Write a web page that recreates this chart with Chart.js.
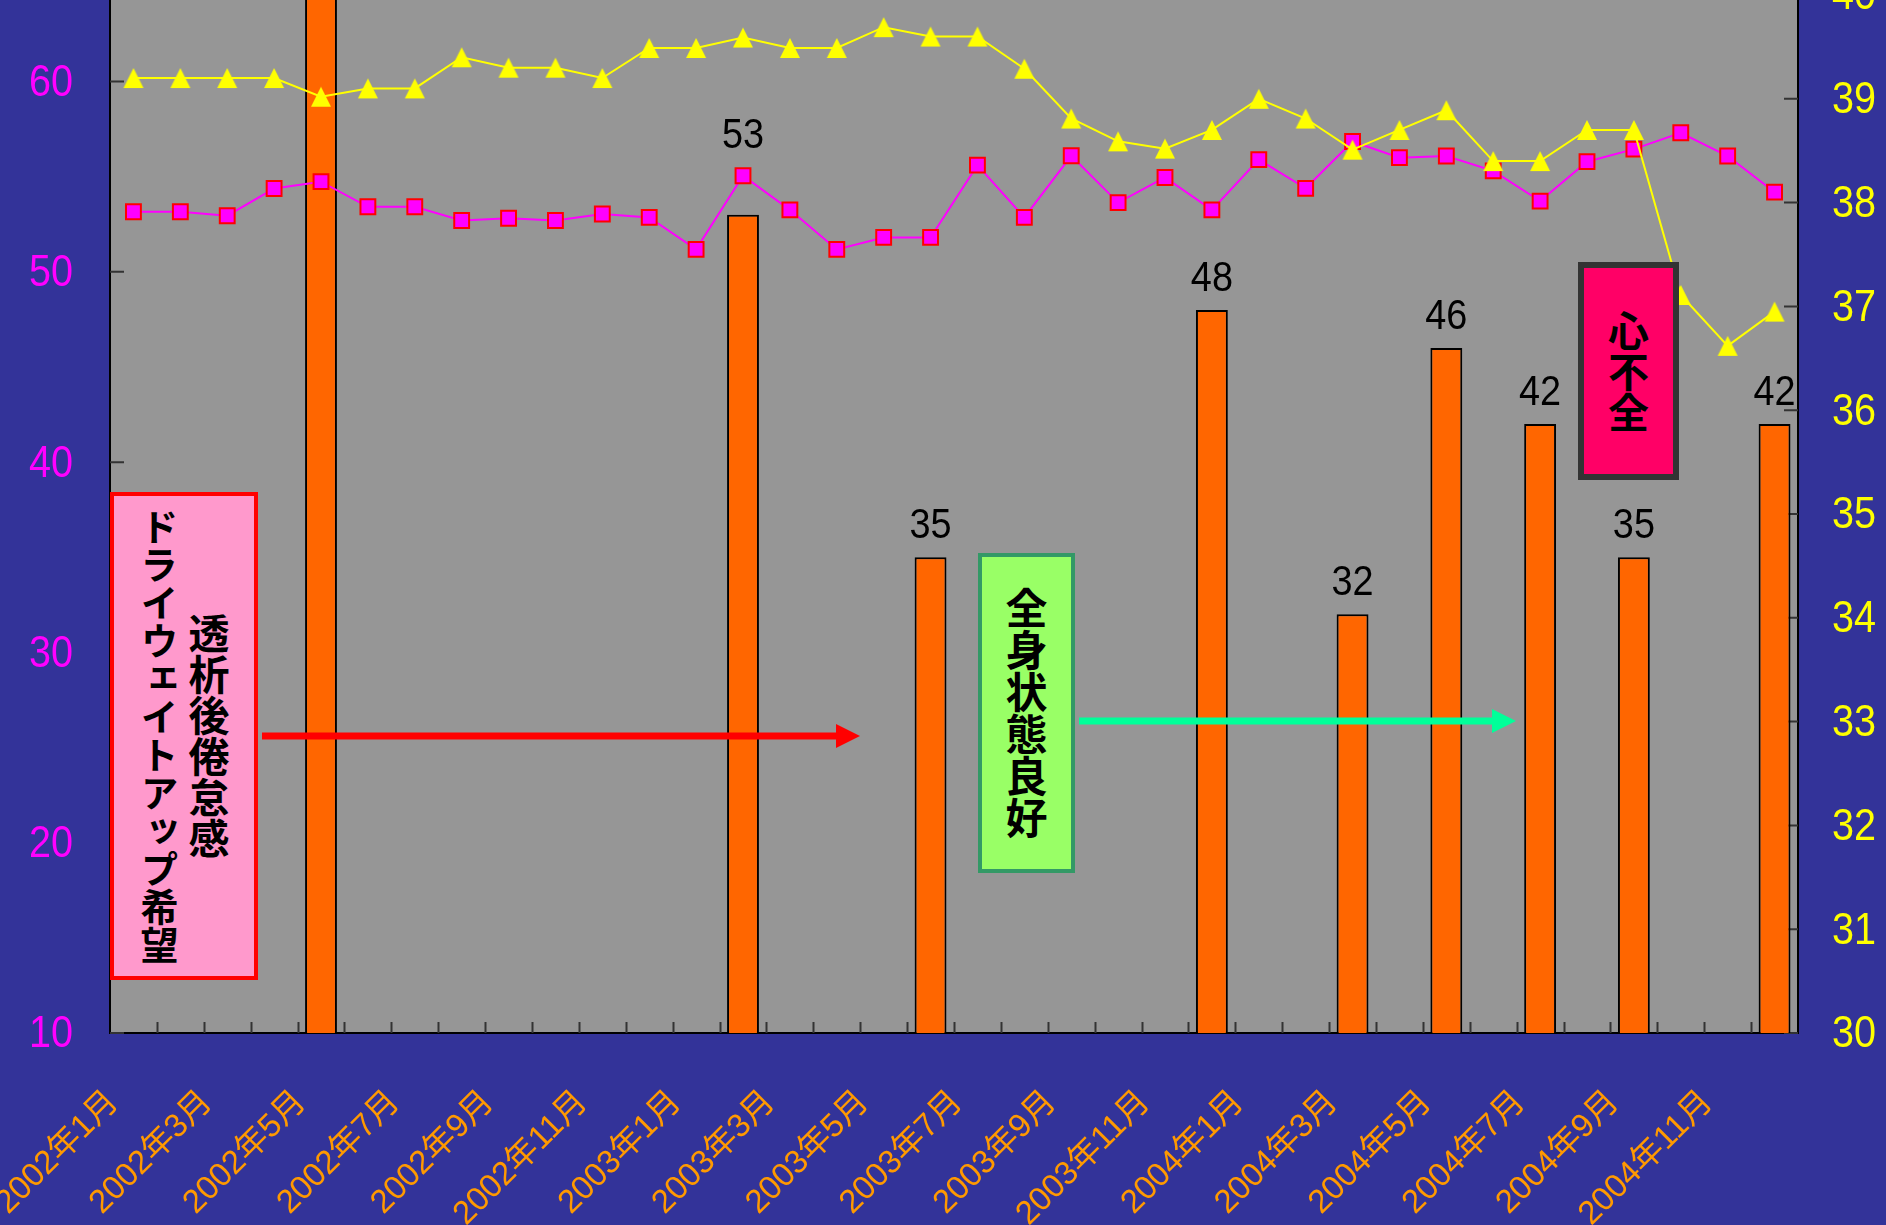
<!DOCTYPE html>
<html lang="ja">
<head>
<meta charset="utf-8">
<title>透析経過</title>
<script src="https://cdn.jsdelivr.net/npm/chart.js@4.4.1/dist/chart.umd.min.js"></script>
<style>
  html, body { margin: 0; padding: 0; background: #333399; overflow: hidden; }
  body { width: 1886px; height: 1225px; position: relative; }
  #wrap { position: absolute; left: 0; top: -5px; width: 1886px; height: 1230px; }
  .note {
    position: absolute; box-sizing: border-box;
    display: flex; align-items: center; justify-content: center;
    font-family: 'Noto Sans CJK JP', sans-serif; font-weight: bold; color: #000;
  }
  .note div { writing-mode: vertical-rl; text-align: center; }
  #arrows { position: absolute; left: 0; top: 0; }
</style>
</head>
<body>
<div id="wrap"><canvas id="myChart" width="1886" height="1230"></canvas></div>

<svg id="arrows" width="1886" height="1225">
  <line x1="262" y1="736" x2="838" y2="736" stroke="#FF0000" stroke-width="7"/>
  <polygon points="836,724 860,736 836,748" fill="#FF0000"/>
  <line x1="1079" y1="721" x2="1494" y2="721" stroke="#00FF99" stroke-width="7"/>
  <polygon points="1492,709 1516,721 1492,733" fill="#00FF99"/>
</svg>

<div class="note" style="left:110px; top:492px; width:148px; height:488px; background:#FF99CC; border:4px solid #FF0000;">
  <div style="line-height:50px;"><span style="font-size:41px;">透析後倦怠感</span><br><span style="font-size:38px;">ドライウェイトアップ希望</span></div>
</div>
<div class="note" style="left:978px; top:553px; width:97px; height:320px; background:#99FF66; border:4px solid #339966;">
  <div style="font-size:42px;">全身状態良好</div>
</div>
<div class="note" style="left:1578px; top:262px; width:101px; height:218px; background:#FF0066; border:6px solid #333333;">
  <div style="font-size:41px;">心不全</div>
</div>

<script>
// months on the category axis
const months = [
  '2002年1月', '2002年2月', '2002年3月', '2002年4月', '2002年5月', '2002年6月',
  '2002年7月', '2002年8月', '2002年9月', '2002年10月', '2002年11月', '2002年12月',
  '2003年1月', '2003年2月', '2003年3月', '2003年4月', '2003年5月', '2003年6月',
  '2003年7月', '2003年8月', '2003年9月', '2003年10月', '2003年11月', '2003年12月',
  '2004年1月', '2004年2月', '2004年3月', '2004年4月', '2004年5月', '2004年6月',
  '2004年7月', '2004年8月', '2004年9月', '2004年10月', '2004年11月', '2004年12月'
];

// orange bars (left axis), null = no bar that month
const barValues = [
  null, null, null, null, 70, null, null, null, null, null, null, null,
  null, 53, null, null, null, 35, null, null, null, null, null, 48,
  null, null, 32, null, 46, null, 42, null, 35, null, null, 42
];

// magenta squares (left axis)
const squareValues = [
  53.16, 53.16, 52.95, 54.38, 54.74, 53.42, 53.42, 52.70, 52.82, 52.70, 53.04, 52.86,
  51.18, 55.05, 53.26, 51.18, 51.81, 51.81, 55.61, 52.86, 56.10, 53.64, 54.96, 53.26,
  55.90, 54.39, 56.85, 56.00, 56.09, 55.31, 53.72, 55.79, 56.45, 57.31, 56.09, 54.19
];

// yellow triangles (right axis)
const triangleValues = [
  39.20, 39.20, 39.20, 39.20, 39.02, 39.10, 39.10, 39.40, 39.30, 39.30, 39.20, 39.49,
  39.49, 39.59, 39.49, 39.49, 39.69, 39.60, 39.60, 39.29, 38.81, 38.59, 38.52, 38.70,
  39.00, 38.81, 38.51, 38.70, 38.89, 38.40, 38.40, 38.70, 38.70, 37.11, 36.62, 36.95
];

const leftMin = 10, leftMax = 64.55, leftStep = 10;
const rightMin = 30, rightMax = 40, rightStep = 1;

// use a narrow face for the numbers if there is one, otherwise squeeze a normal one
function fontAvailable(name) {
  const c = document.createElement('canvas').getContext('2d');
  const s = '0123456789年';
  c.font = '40px monospace'; const a = c.measureText(s).width;
  c.font = "40px '" + name + "', monospace"; const b = c.measureText(s).width;
  c.font = '40px serif'; const d = c.measureText(s).width;
  c.font = "40px '" + name + "', serif"; const e = c.measureText(s).width;
  return a !== b || d !== e;
}
const hasNarrow = fontAvailable('Liberation Sans Narrow');
const numFamily = hasNarrow ? "'Liberation Sans Narrow', sans-serif" : "'Liberation Sans', sans-serif";
const numStretch = hasNarrow ? 1.06 : 0.88;

function drawNumber(ctx, text, x, y, align, size, color) {
  ctx.save();
  ctx.translate(x, y);
  ctx.scale(numStretch, 1);
  ctx.font = size + 'px ' + numFamily;
  ctx.fillStyle = color;
  ctx.textAlign = align;
  ctx.textBaseline = 'middle';
  ctx.fillText(text, 0, 0);
  ctx.restore();
}

// excel-like triangle marker (a bit taller than equilateral)
const triMarker = document.createElement('canvas');
triMarker.width = 22;
triMarker.height = 22;
(function () {
  const t = triMarker.getContext('2d');
  t.fillStyle = '#FFFF00';
  t.beginPath();
  t.moveTo(11, 1);
  t.lineTo(21, 21);
  t.lineTo(1, 21);
  t.closePath();
  t.fill();
})();

// gray plot area
const plotBackground = {
  id: 'plotBackground',
  beforeDraw(chart) {
    const { ctx, chartArea: a } = chart;
    ctx.save();
    ctx.fillStyle = '#969696';
    ctx.fillRect(a.left, a.top, a.right - a.left, a.bottom - a.top);
    ctx.restore();
  }
};

// short tick marks pointing into the plot
const innerTicks = {
  id: 'innerTicks',
  beforeDatasetsDraw(chart) {
    const { ctx, chartArea: a, scales } = chart;
    ctx.save();
    ctx.strokeStyle = '#333333';
    ctx.lineWidth = 2;
    ctx.beginPath();
    const n = months.length;
    const step = (a.right - a.left) / n;
    for (let k = 1; k < n; k++) {
      const x = Math.round(a.left + k * step) + 0.5;
      ctx.moveTo(x, a.bottom);
      ctx.lineTo(x, a.bottom - 11);
    }
    scales.y.ticks.forEach(t => {
      const y = scales.y.getPixelForValue(t.value);
      ctx.moveTo(a.left, y);
      ctx.lineTo(a.left + 14, y);
    });
    scales.y1.ticks.forEach(t => {
      const y = scales.y1.getPixelForValue(t.value);
      ctx.moveTo(a.right, y);
      ctx.lineTo(a.right - 14, y);
    });
    ctx.stroke();
    ctx.restore();
  }
};

// y tick labels, drawn here so they can use the narrow digits
const axisNumbers = {
  id: 'axisNumbers',
  afterDraw(chart) {
    const { ctx, chartArea: a, scales } = chart;
    scales.y.ticks.forEach(t => {
      drawNumber(ctx, String(t.value), a.left - 37, scales.y.getPixelForValue(t.value) + 2, 'right', 45, '#FF00FF');
    });
    scales.y1.ticks.forEach(t => {
      drawNumber(ctx, String(t.value), a.right + 34, scales.y1.getPixelForValue(t.value) + 2, 'left', 45, '#FFFF00');
    });
  }
};

// value labels above the bars, lifted over a marker when they would collide
const barLabels = {
  id: 'barLabels',
  afterDatasetsDraw(chart) {
    const { ctx } = chart;
    const bars = chart.getDatasetMeta(2);
    const squares = chart.getDatasetMeta(1);
    bars.data.forEach((bar, i) => {
      if (barValues[i] === null) return;
      let y = bar.y - 31;
      const p = squares.data[i];
      if (p && p.y > y - 22 && p.y < bar.y) y = p.y - 40;
      drawNumber(ctx, String(barValues[i]), bar.x, y, 'center', 43, '#000000');
    });
  }
};

const ctx = document.getElementById('myChart').getContext('2d');
const myChart = new Chart(ctx, {
  type: 'bar',
  data: {
    labels: months,
    datasets: [
      {
        type: 'line',
        label: 'triangles',
        data: triangleValues,
        yAxisID: 'y1',
        order: 0,
        borderColor: '#FFFF00',
        borderWidth: 2,
        pointStyle: triMarker,
        pointRadius: 11,
        tension: 0
      },
      {
        type: 'line',
        label: 'squares',
        data: squareValues,
        yAxisID: 'y',
        order: 1,
        borderColor: '#FF00FF',
        borderWidth: 2,
        pointStyle: 'rect',
        pointRadius: 10.5,
        pointBackgroundColor: '#FF00FF',
        pointBorderColor: '#FF0000',
        pointBorderWidth: 2,
        tension: 0
      },
      {
        type: 'bar',
        label: 'bars',
        data: barValues,
        yAxisID: 'y',
        order: 2,
        backgroundColor: '#FF6600',
        borderColor: '#000000',
        borderWidth: 2,
        barPercentage: 0.68,
        categoryPercentage: 1
      }
    ]
  },
  options: {
    responsive: false,
    animation: false,
    devicePixelRatio: 1,
    layout: { padding: 0, autoPadding: false },
    plugins: {
      legend: { display: false },
      tooltip: { enabled: false }
    },
    scales: {
      x: {
        offset: true,
        grid: { display: true, drawOnChartArea: false, drawTicks: false },
        border: { display: true, color: '#000000', width: 2 },
        ticks: {
          autoSkip: false,
          minRotation: 45,
          maxRotation: 45,
          padding: 50,
          labelOffset: -20,
          color: '#FF9900',
          font: { family: "'Liberation Sans', 'Noto Sans CJK JP', sans-serif", size: 33 },
          callback: (v, i) => (i % 2 === 0 ? months[i] : null)
        },
        afterFit(scale) {
          scale.height = 192;
          scale.paddingLeft = 0;
          scale.paddingRight = 0;
        }
      },
      y: {
        position: 'left',
        min: leftMin,
        max: leftMax,
        grid: { display: true, drawOnChartArea: false, drawTicks: false },
        border: { display: true, color: '#000000', width: 2 },
        ticks: {
          stepSize: leftStep,
          includeBounds: false,
          color: 'rgba(0,0,0,0)',
          font: { size: 44 }
        },
        afterFit(scale) {
          scale.width = 110;
          scale.paddingTop = 0;
          scale.paddingBottom = 0;
        }
      },
      y1: {
        position: 'right',
        min: rightMin,
        max: rightMax,
        grid: { display: true, drawOnChartArea: false, drawTicks: false },
        border: { display: true, color: '#000000', width: 2 },
        ticks: {
          stepSize: rightStep,
          color: 'rgba(0,0,0,0)',
          font: { size: 44 }
        },
        afterFit(scale) {
          scale.width = 88;
          scale.paddingTop = 0;
          scale.paddingBottom = 0;
        }
      }
    }
  },
  plugins: [plotBackground, innerTicks, barLabels, axisNumbers]
});
</script>
</body>
</html>
